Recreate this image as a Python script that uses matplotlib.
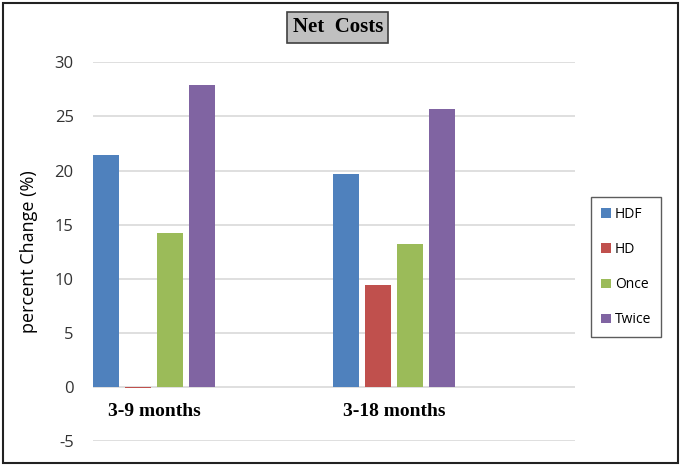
import matplotlib.pyplot as plt
from matplotlib.patches import Rectangle
import numpy as np

categories = ['3-9 months', '3-18 months']
series = ['HDF', 'HD', 'Once', 'Twice']
values = {
    'HDF': [21.4, 19.7],
    'HD': [-0.1, 9.4],
    'Once': [14.2, 13.2],
    'Twice': [27.9, 25.7],
}
colors = ['#4f81bd', '#c0504d', '#9bbb59', '#8064a2']
yticks = [-5, 0, 5, 10, 15, 20, 25, 30]

fig = plt.figure(figsize=(6.85, 4.71), dpi=100)
ax = fig.add_axes([0.136, 0.0637, 0.703, 0.804])

x = np.arange(len(categories))
step = 0.133
width = 0.108
for k, (name, c) in enumerate(zip(series, colors)):
    ax.bar(x + k * step, values[name], width=width, color=c, label=name, zorder=3)

ax.set_ylim(-5, 30)
ax.set_xlim(-0.054, 1.954)
ax.set_yticks(yticks)
ax.set_yticklabels([str(t) for t in yticks], fontsize=12, color='#333333', family='Open Sans')
ax.set_xticks([])
ax.tick_params(axis='y', length=0, pad=14)
ax.grid(axis='y', color='#d9d9d9', linewidth=1.2, zorder=0)
for s in ax.spines.values():
    s.set_visible(False)

ax.set_ylabel('percent Change (%)', fontsize=13, family='Open Sans', labelpad=12)

# category labels sit just under the zero line
for i, cat in enumerate(categories):
    ax.text(i + 1.5 * step, -2.3, cat, ha='center', va='center',
            fontsize=14, fontweight='bold', family='Liberation Serif')

leg = ax.legend(loc='center left', bbox_to_anchor=(1.02, 0.459), frameon=True,
                fancybox=False, edgecolor='#333333', handlelength=0.7,
                handleheight=0.7, handletextpad=0.3, labelspacing=1.45,
                borderpad=0.7, prop={'family': 'Open Sans', 'size': 10})
leg.get_frame().set_linewidth(1.0)

fig.text(0.493, 0.942, 'Net  Costs', ha='center', va='center', fontsize=15,
         fontweight='bold', family='Liberation Serif',
         bbox=dict(boxstyle='square,pad=0.25', facecolor='#c0c0c0',
                   edgecolor='#404040', linewidth=1.2))

# outer frame
fig.patches.append(Rectangle((0.005, 0.018), 0.985, 0.975, transform=fig.transFigure,
                             fill=False, edgecolor='#222222', linewidth=1.5))

fig.savefig('out.png', dpi=100)
